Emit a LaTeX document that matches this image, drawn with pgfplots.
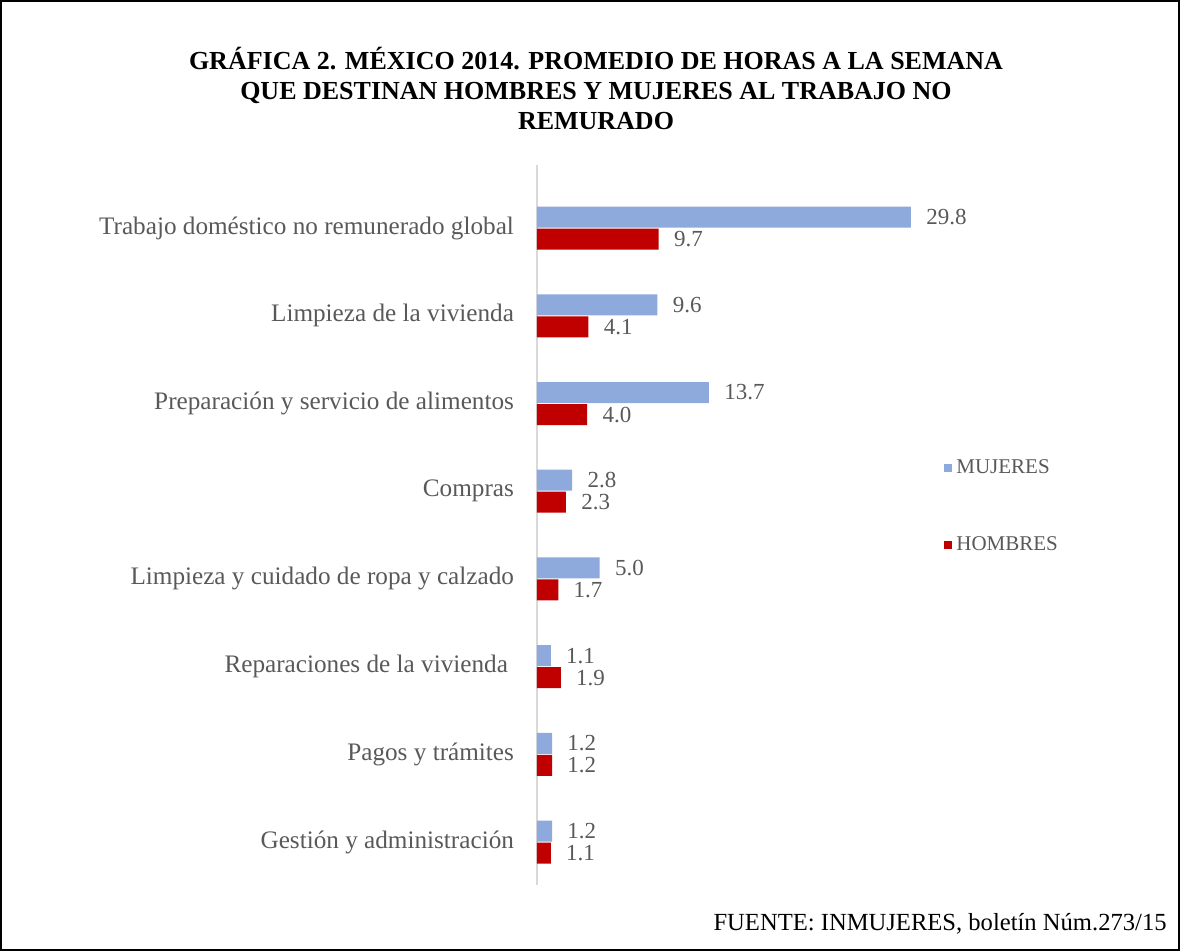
\documentclass[border=0pt]{standalone}
\usepackage{pgfplots}
\pgfplotsset{compat=1.18}
\usepackage{fontspec}
\setmainfont{Liberation Serif}
\definecolor{mujeres}{HTML}{8EA9DB}
\definecolor{hombres}{HTML}{C00000}
\definecolor{txt}{HTML}{595959}
\begin{document}
\begin{tikzpicture}
\useasboundingbox (0,0) rectangle (590pt,475.5pt);
\draw[black, line width=0.8pt] (0.4pt,0.4pt) rectangle (589.6pt,475.1pt);
\node[align=center, font=\bfseries\fontsize{13}{15}\selectfont, inner sep=0pt] at (298pt,431.5pt)
  {GRÁFICA 2. MÉXICO 2014. PROMEDIO DE HORAS A LA SEMANA\\QUE DESTINAN HOMBRES Y MUJERES AL TRABAJO NO\\REMURADO};
\node[anchor=east, font=\fontsize{12.3}{14}\selectfont, inner sep=0pt] at (583.5pt,13.5pt)
  {FUENTE: INMUJERES, boletín Núm.273/15};
\begin{axis}[
  at={(268.5pt,33pt)}, anchor=south west,
  scale only axis, width=188.25pt, height=360pt,
  xbar, bar width=10.5pt,
  xmin=0, xmax=30,
  ymin=-0.49, ymax=7.72,
  axis x line=none,
  axis y line*=left,
  y axis line style={draw=black!15, line width=1pt, -},
  ytick={0,...,7},
  yticklabels={Gestión y administración, Pagos y trámites, Reparaciones de la vivienda\hspace*{3pt}, Limpieza y cuidado de ropa y calzado, Compras, Preparación y servicio de alimentos, Limpieza de la vivienda, Trabajo doméstico no remunerado global},
  yticklabel style={font=\fontsize{12.6}{14}\selectfont, text=txt, xshift=-8pt},
  major tick length=0pt,
  clip=false,
  nodes near coords={\pgfmathprintnumber[fixed,fixed zerofill,precision=1,assume math mode=true]{\pgfplotspointmeta}},
  nodes near coords style={anchor=west, inner sep=0pt, xshift=7.5pt, font=\fontsize{11.5}{13}\selectfont, text=txt},
  legend style={at={(1.081,0.526)}, anchor=west, draw=none, fill=none, font=\fontsize{10.5}{12}\selectfont, text=txt, row sep=26pt, inner sep=0pt},
  legend cell align=left,
  legend image code/.code={\fill[#1] (0pt,-2pt) rectangle (4pt,2pt);},
]
\addplot[fill=mujeres, draw=none, bar shift=5.5pt] coordinates {
 (1.2,0) (1.2,1) (1.1,2) (5.0,3) (2.8,4) (13.7,5) (9.6,6) (29.8,7)};
\addlegendentry{MUJERES}
\addplot[fill=hombres, draw=none, bar shift=-5.5pt] coordinates {
 (1.1,0) (1.2,1) (1.9,2) (1.7,3) (2.3,4) (4.0,5) (4.1,6) (9.7,7)};
\addlegendentry{HOMBRES}
\end{axis}
\end{tikzpicture}
\end{document}
